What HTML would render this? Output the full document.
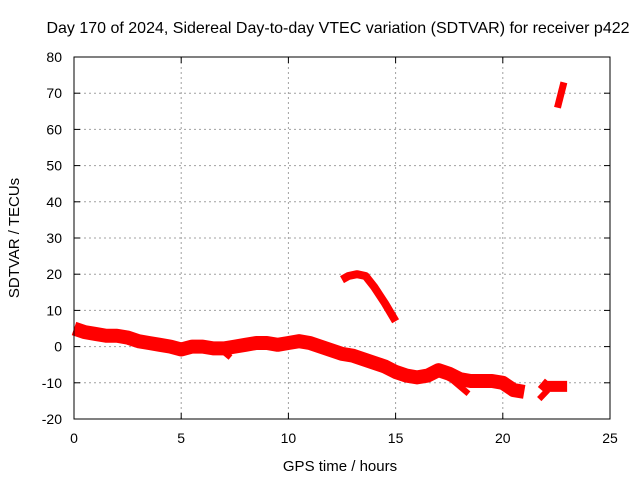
<!DOCTYPE html>
<html><head><meta charset="utf-8"><style>
body{margin:0;background:#fff;}
svg{display:block;font-family:"Liberation Sans",sans-serif;}
</style></head><body>
<svg id="chart" width="640" height="480">
<text x="338" y="33" font-size="16" text-anchor="middle">Day 170 of 2024, Sidereal Day-to-day VTEC variation (SDTVAR) for receiver p422</text>
<text x="340" y="471" font-size="15" text-anchor="middle">GPS time / hours</text>
<text transform="translate(19,238) rotate(-90)" font-size="15" text-anchor="middle">SDTVAR / TECUs</text>
<g id="grid"></g><g id="ticks"></g><g id="series"></g>
<rect x="74" y="57" width="536" height="362" fill="none" stroke="#000" stroke-width="1"/>
</svg>
<script>
const xTicks=[0,5,10,15,20,25];
const yTicks=[-20,-10,0,10,20,30,40,50,60,70,80];
const seg1Hours=[0,0.5,1,1.5,2,2.5,3,3.5,4,4.5,5,5.5,6,6.5,7,7.5,8,8.5,9,9.5,10,10.5,11,11.5,12,12.5,13,13.5,14,14.5,15,15.5,16,16.5,17,17.5,18,18.5,19,19.5,20,20.5,21];
const seg1Values=[5,4,3.5,3,3,2.5,1.5,1,0.5,0,-0.8,0,0,-0.5,-0.5,0,0.5,1,1,0.5,1,1.5,1,0,-1,-2,-2.5,-3.5,-4.5,-5.5,-7,-8,-8.5,-8,-6.5,-7.5,-9,-9.5,-9.5,-9.5,-10,-12,-12.5];
const branch1Hours=[6.5,7,7.3];const branch1Values=[0,-1.5,-3];
const branch2Hours=[17.5,18,18.4];const branch2Values=[-8.5,-11,-13];
const seg2Hours=[21.8,22,22.5,23];const seg2Values=[-10,-11,-11,-11];
const branch3Hours=[21.7,22.1];const branch3Values=[-14.5,-12];
const arcHours=[12.5,12.8,13.2,13.6,14,14.5,15];const arcValues=[18.5,19.5,20,19.5,16.5,12,7];
const topHours=[22.55,22.85];const topValues=[66,73];
const X0=74,X1=610,Y0=419,Y1=57;
const sx=h=>X0+(h-0)/(25-0)*(X1-X0);
const sy=v=>Y0-(v+20)/(100)*(Y0-Y1);
const NS="http://www.w3.org/2000/svg";
const grid=document.getElementById('grid'),ticks=document.getElementById('ticks'),ser=document.getElementById('series');
function mk(t,a,p){const e=document.createElementNS(NS,t);for(const k in a)e.setAttribute(k,a[k]);p.appendChild(e);return e;}
xTicks.forEach(t=>{const x=sx(t);
 if(t>0&&t<25){const g=mk('line',{x1:x,x2:x,y1:Y1,y2:Y0,stroke:'#a0a0a0','stroke-dasharray':'2,3'},grid);
 
 }
 mk('line',{x1:x,x2:x,y1:Y0,y2:Y0-6,stroke:'#000'},ticks);mk('line',{x1:x,x2:x,y1:Y1,y2:Y1+6,stroke:'#000'},ticks);
 const l=mk('text',{x:x,y:443,'font-size':14,'text-anchor':'middle'},ticks);l.textContent=t;
 
 });
yTicks.forEach(t=>{const y=sy(t);
 if(t>-20&&t<80){const g=mk('line',{x1:X0,x2:X1,y1:y,y2:y,stroke:'#a0a0a0','stroke-dasharray':'2,3'},grid);
 
 }
 mk('line',{x1:X0,x2:X0+6,y1:y,y2:y,stroke:'#000'},ticks);mk('line',{x1:X1,x2:X1-6,y1:y,y2:y,stroke:'#000'},ticks);
 const l=mk('text',{x:62,y:y+5,'font-size':14,'text-anchor':'end'},ticks);l.textContent=t;
 
 });
function line(hs,vs,w,name){const p=mk('polyline',{points:hs.map((h,i)=>sx(h)+','+sy(vs[i])).join(' '),fill:'none',stroke:'#ff0000','stroke-width':w,'stroke-linejoin':'round'},ser);
 
 }
line(seg1Hours,seg1Values,14,'sdtvar-main-series');
line(branch1Hours,branch1Values,6,'sdtvar-branch-1');
line(branch2Hours,branch2Values,6,'sdtvar-branch-2');
line(seg2Hours,seg2Values,11,'sdtvar-late-series');
line(branch3Hours,branch3Values,6,'sdtvar-branch-3');
line(arcHours,arcValues,8,'sdtvar-arc-series');
line(topHours,topValues,7,'sdtvar-top-series');
</script>
</body></html>
